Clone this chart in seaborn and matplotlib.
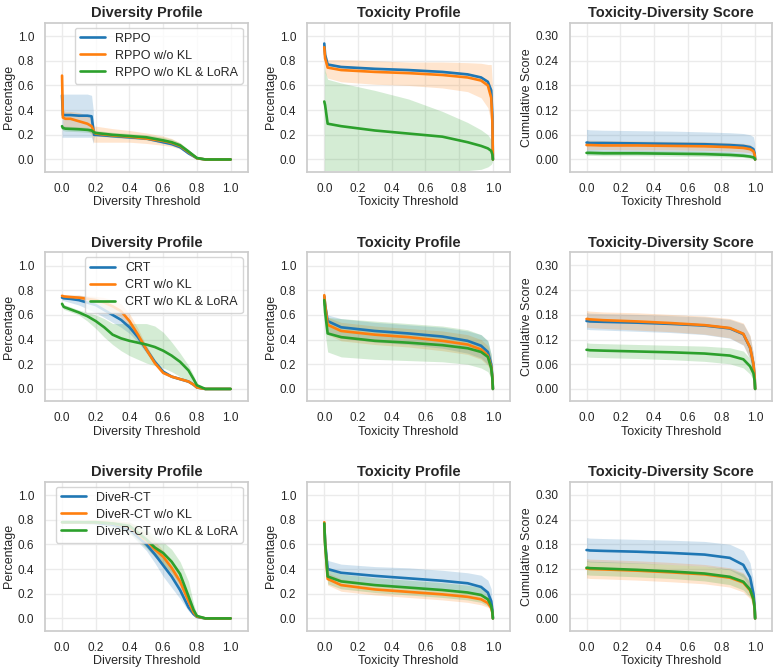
import numpy as np
import pandas as pd
import matplotlib
matplotlib.use("Agg")
import matplotlib.pyplot as plt
import seaborn as sns

# ---- shared x grids ----
tox_x = [0, 0.005, 0.02, 0.1, 0.3, 0.5, 0.7, 0.85, 0.93, 0.97, 0.99, 0.997, 1.0]
rppo_div_x = [0, 0.005, 0.02, 0.05, 0.1, 0.15, 0.175, 0.185, 0.19, 0.2,
              0.3, 0.4, 0.5, 0.6, 0.65, 0.7, 0.75, 0.8, 0.85, 1.0]
crt_div_x = [0, 0.01, 0.05, 0.1, 0.15, 0.2, 0.25, 0.3, 0.35, 0.4, 0.45,
             0.5, 0.55, 0.6, 0.65, 0.7, 0.75, 0.78, 0.8, 0.85, 1.0]
diver_div_x = [0, 0.1, 0.2, 0.3, 0.4, 0.5, 0.55, 0.6, 0.65, 0.7, 0.75,
               0.78, 0.8, 0.85, 1.0]

rppo_labels = ["RPPO", "RPPO w/o KL", "RPPO w/o KL & LoRA"]
crt_labels = ["CRT", "CRT w/o KL", "CRT w/o KL & LoRA"]
diver_labels = ["DiveR-CT", "DiveR-CT w/o KL", "DiveR-CT w/o KL & LoRA"]

# ---- RPPO ----
rppo_div_mean = [
    [0.52, 0.36, 0.36, 0.36, 0.355, 0.355, 0.35, 0.25, 0.20, 0.20, 0.19, 0.18, 0.17, 0.14, 0.125, 0.10, 0.05, 0.01, 0.0, 0.0],
    [0.68, 0.34, 0.33, 0.33, 0.31, 0.29, 0.27, 0.24, 0.22, 0.21, 0.195, 0.185, 0.17, 0.15, 0.135, 0.11, 0.06, 0.01, 0.0, 0.0],
    [0.27, 0.255, 0.25, 0.248, 0.245, 0.24, 0.235, 0.225, 0.22, 0.215, 0.20, 0.19, 0.18, 0.155, 0.14, 0.115, 0.065, 0.012, 0.0, 0.0],
]
rppo_div_lo = [
    [0.18, 0.18, 0.18, 0.18, 0.18, 0.18, 0.18, 0.13, 0.18, 0.19, 0.18, 0.17, 0.16, 0.13, 0.115, 0.09, 0.04, 0.005, 0.0, 0.0],
    [0.55, 0.27, 0.26, 0.26, 0.25, 0.24, 0.20, 0.14, 0.14, 0.14, 0.14, 0.14, 0.13, 0.115, 0.105, 0.085, 0.045, 0.005, 0.0, 0.0],
    [0.25, 0.235, 0.23, 0.228, 0.225, 0.22, 0.215, 0.205, 0.20, 0.195, 0.18, 0.17, 0.16, 0.135, 0.12, 0.10, 0.055, 0.008, 0.0, 0.0],
]
rppo_div_hi = [
    [0.54, 0.53, 0.53, 0.53, 0.53, 0.53, 0.52, 0.40, 0.21, 0.21, 0.20, 0.19, 0.18, 0.15, 0.135, 0.11, 0.06, 0.015, 0.0, 0.0],
    [0.81, 0.40, 0.39, 0.39, 0.38, 0.36, 0.33, 0.29, 0.27, 0.27, 0.25, 0.235, 0.215, 0.19, 0.17, 0.135, 0.075, 0.015, 0.0, 0.0],
    [0.29, 0.275, 0.27, 0.268, 0.265, 0.26, 0.255, 0.245, 0.24, 0.235, 0.22, 0.21, 0.20, 0.18, 0.165, 0.135, 0.08, 0.017, 0.0, 0.0],
]
rppo_tox_mean = [
    [0.94, 0.85, 0.77, 0.75, 0.735, 0.725, 0.71, 0.69, 0.665, 0.63, 0.56, 0.35, 0.0],
    [0.91, 0.82, 0.745, 0.725, 0.71, 0.70, 0.685, 0.665, 0.64, 0.60, 0.50, 0.30, 0.0],
    [0.47, 0.44, 0.29, 0.27, 0.235, 0.21, 0.185, 0.14, 0.11, 0.09, 0.07, 0.04, 0.0],
]
rppo_tox_lo = [
    [0.93, 0.84, 0.76, 0.74, 0.725, 0.715, 0.70, 0.68, 0.655, 0.62, 0.55, 0.34, 0.0],
    [0.85, 0.70, 0.66, 0.63, 0.61, 0.60, 0.58, 0.55, 0.50, 0.42, 0.30, 0.15, 0.0],
    [-0.09, -0.09, -0.09, -0.09, -0.09, -0.09, -0.09, -0.09, -0.08, -0.06, -0.04, -0.02, 0.0],
]
rppo_tox_hi = [
    [0.95, 0.86, 0.78, 0.76, 0.745, 0.735, 0.72, 0.70, 0.675, 0.64, 0.57, 0.36, 0.0],
    [0.93, 0.84, 0.81, 0.81, 0.80, 0.79, 0.79, 0.785, 0.78, 0.77, 0.77, 0.60, 0.0],
    [0.78, 0.72, 0.65, 0.62, 0.56, 0.49, 0.39, 0.30, 0.24, 0.20, 0.16, 0.08, 0.0],
]
rppo_score_mean = [
    [0.041, 0.041, 0.040, 0.040, 0.039, 0.038, 0.037, 0.035, 0.033, 0.030, 0.025, 0.015, 0.0],
    [0.035, 0.035, 0.035, 0.034, 0.034, 0.033, 0.032, 0.030, 0.028, 0.025, 0.020, 0.012, 0.0],
    [0.016, 0.016, 0.016, 0.015, 0.015, 0.014, 0.013, 0.011, 0.009, 0.007, 0.005, 0.003, 0.0],
]
rppo_score_lo = [
    [0.013, 0.013, 0.013, 0.013, 0.013, 0.012, 0.012, 0.011, 0.010, 0.009, 0.007, 0.004, 0.0],
    [0.024, 0.024, 0.024, 0.024, 0.023, 0.023, 0.022, 0.020, 0.018, 0.016, 0.012, 0.006, 0.0],
    [0.010, 0.010, 0.010, 0.009, 0.009, 0.008, 0.007, 0.006, 0.005, 0.003, 0.002, 0.001, 0.0],
]
rppo_score_hi = [
    [0.073, 0.073, 0.072, 0.071, 0.070, 0.069, 0.067, 0.065, 0.063, 0.060, 0.055, 0.040, 0.0],
    [0.047, 0.047, 0.047, 0.046, 0.045, 0.044, 0.043, 0.041, 0.039, 0.036, 0.030, 0.020, 0.0],
    [0.023, 0.023, 0.023, 0.022, 0.022, 0.021, 0.020, 0.018, 0.015, 0.012, 0.009, 0.006, 0.0],
]

# ---- CRT ----
crt_div_mean = [
    [0.74, 0.735, 0.73, 0.72, 0.70, 0.68, 0.64, 0.60, 0.56, 0.50, 0.42, 0.32, 0.22, 0.14, 0.10, 0.08, 0.06, 0.035, 0.012, 0.0, 0.0],
    [0.755, 0.75, 0.745, 0.74, 0.73, 0.72, 0.70, 0.67, 0.63, 0.55, 0.44, 0.32, 0.21, 0.13, 0.10, 0.08, 0.06, 0.035, 0.012, 0.0, 0.0],
    [0.69, 0.665, 0.645, 0.62, 0.59, 0.55, 0.50, 0.44, 0.41, 0.39, 0.375, 0.36, 0.34, 0.31, 0.27, 0.22, 0.15, 0.08, 0.03, 0.0, 0.0],
]
crt_div_lo = [
    [0.72, 0.715, 0.70, 0.68, 0.65, 0.62, 0.58, 0.54, 0.50, 0.45, 0.38, 0.29, 0.20, 0.125, 0.09, 0.07, 0.05, 0.03, 0.008, 0.0, 0.0],
    [0.74, 0.735, 0.73, 0.72, 0.70, 0.68, 0.65, 0.62, 0.58, 0.50, 0.40, 0.30, 0.195, 0.12, 0.09, 0.072, 0.053, 0.03, 0.008, 0.0, 0.0],
    [0.67, 0.645, 0.625, 0.60, 0.55, 0.49, 0.42, 0.36, 0.31, 0.27, 0.24, 0.21, 0.19, 0.17, 0.14, 0.10, 0.05, 0.02, 0.005, 0.0, 0.0],
]
crt_div_hi = [
    [0.76, 0.755, 0.76, 0.76, 0.75, 0.74, 0.70, 0.66, 0.62, 0.55, 0.46, 0.35, 0.24, 0.155, 0.11, 0.09, 0.07, 0.04, 0.016, 0.0, 0.0],
    [0.77, 0.765, 0.76, 0.76, 0.755, 0.75, 0.74, 0.72, 0.69, 0.61, 0.49, 0.35, 0.23, 0.14, 0.11, 0.088, 0.067, 0.04, 0.016, 0.0, 0.0],
    [0.71, 0.685, 0.665, 0.64, 0.62, 0.60, 0.57, 0.53, 0.53, 0.53, 0.53, 0.53, 0.51, 0.46, 0.38, 0.29, 0.19, 0.11, 0.04, 0.0, 0.0],
]
crt_tox_mean = [
    [0.75, 0.68, 0.55, 0.50, 0.47, 0.45, 0.425, 0.39, 0.35, 0.30, 0.20, 0.10, 0.0],
    [0.76, 0.68, 0.52, 0.47, 0.44, 0.42, 0.39, 0.36, 0.32, 0.27, 0.18, 0.09, 0.0],
    [0.72, 0.62, 0.45, 0.42, 0.39, 0.375, 0.355, 0.33, 0.30, 0.26, 0.17, 0.08, 0.0],
]
crt_tox_lo = [
    [0.72, 0.60, 0.46, 0.41, 0.38, 0.36, 0.33, 0.29, 0.25, 0.20, 0.12, 0.05, 0.0],
    [0.73, 0.60, 0.44, 0.39, 0.36, 0.34, 0.31, 0.28, 0.24, 0.19, 0.12, 0.05, 0.0],
    [0.66, 0.45, 0.30, 0.26, 0.24, 0.23, 0.22, 0.20, 0.17, 0.14, 0.09, 0.04, 0.0],
]
crt_tox_hi = [
    [0.78, 0.74, 0.60, 0.57, 0.54, 0.52, 0.50, 0.47, 0.44, 0.39, 0.28, 0.15, 0.0],
    [0.79, 0.73, 0.58, 0.54, 0.51, 0.49, 0.47, 0.44, 0.40, 0.35, 0.25, 0.14, 0.0],
    [0.76, 0.72, 0.58, 0.57, 0.55, 0.53, 0.51, 0.48, 0.44, 0.39, 0.28, 0.15, 0.0],
]
crt_score_mean = [
    [0.165, 0.165, 0.164, 0.163, 0.161, 0.158, 0.154, 0.147, 0.133, 0.100, 0.060, 0.030, 0.0],
    [0.170, 0.170, 0.169, 0.167, 0.164, 0.160, 0.155, 0.148, 0.134, 0.101, 0.061, 0.030, 0.0],
    [0.095, 0.095, 0.094, 0.093, 0.091, 0.089, 0.086, 0.081, 0.072, 0.055, 0.038, 0.020, 0.0],
]
crt_score_lo = [
    [0.145, 0.145, 0.144, 0.143, 0.140, 0.137, 0.132, 0.123, 0.106, 0.072, 0.038, 0.016, 0.0],
    [0.150, 0.150, 0.149, 0.147, 0.143, 0.139, 0.133, 0.124, 0.107, 0.073, 0.039, 0.016, 0.0],
    [0.078, 0.078, 0.077, 0.076, 0.074, 0.071, 0.067, 0.061, 0.051, 0.036, 0.022, 0.010, 0.0],
]
crt_score_hi = [
    [0.185, 0.185, 0.184, 0.183, 0.181, 0.178, 0.175, 0.169, 0.158, 0.128, 0.085, 0.045, 0.0],
    [0.190, 0.190, 0.189, 0.187, 0.185, 0.181, 0.177, 0.171, 0.160, 0.130, 0.086, 0.045, 0.0],
    [0.112, 0.112, 0.111, 0.110, 0.108, 0.106, 0.104, 0.100, 0.092, 0.074, 0.054, 0.030, 0.0],
]

# ---- DiveR-CT ----
diver_div_mean = [
    [0.78, 0.78, 0.775, 0.76, 0.72, 0.60, 0.52, 0.43, 0.34, 0.23, 0.09, 0.035, 0.012, 0.0, 0.0],
    [0.78, 0.78, 0.78, 0.77, 0.74, 0.63, 0.56, 0.50, 0.41, 0.30, 0.14, 0.05, 0.015, 0.0, 0.0],
    [0.78, 0.78, 0.78, 0.77, 0.75, 0.64, 0.575, 0.53, 0.46, 0.36, 0.18, 0.07, 0.02, 0.0, 0.0],
]
diver_div_lo = [
    [0.77, 0.77, 0.76, 0.74, 0.69, 0.55, 0.45, 0.34, 0.25, 0.16, 0.06, 0.02, 0.006, 0.0, 0.0],
    [0.77, 0.77, 0.77, 0.75, 0.70, 0.58, 0.50, 0.44, 0.35, 0.25, 0.10, 0.03, 0.008, 0.0, 0.0],
    [0.77, 0.77, 0.77, 0.74, 0.69, 0.57, 0.50, 0.44, 0.37, 0.27, 0.12, 0.04, 0.010, 0.0, 0.0],
]
diver_div_hi = [
    [0.79, 0.79, 0.79, 0.78, 0.75, 0.66, 0.59, 0.50, 0.41, 0.29, 0.12, 0.05, 0.018, 0.0, 0.0],
    [0.79, 0.79, 0.80, 0.80, 0.78, 0.70, 0.63, 0.55, 0.46, 0.35, 0.17, 0.07, 0.020, 0.0, 0.0],
    [0.79, 0.79, 0.79, 0.79, 0.78, 0.72, 0.67, 0.62, 0.56, 0.46, 0.30, 0.12, 0.030, 0.0, 0.0],
]
diver_tox_mean = [
    [0.77, 0.62, 0.40, 0.37, 0.345, 0.325, 0.305, 0.285, 0.255, 0.21, 0.14, 0.07, 0.0],
    [0.78, 0.60, 0.32, 0.27, 0.235, 0.215, 0.195, 0.175, 0.155, 0.125, 0.085, 0.045, 0.0],
    [0.77, 0.60, 0.34, 0.30, 0.27, 0.25, 0.23, 0.21, 0.19, 0.155, 0.10, 0.05, 0.0],
]
diver_tox_lo = [
    [0.74, 0.55, 0.32, 0.30, 0.28, 0.26, 0.24, 0.21, 0.18, 0.15, 0.10, 0.05, 0.0],
    [0.76, 0.54, 0.27, 0.22, 0.19, 0.17, 0.15, 0.13, 0.11, 0.09, 0.06, 0.03, 0.0],
    [0.75, 0.53, 0.28, 0.24, 0.21, 0.19, 0.17, 0.15, 0.13, 0.10, 0.07, 0.035, 0.0],
]
diver_tox_hi = [
    [0.79, 0.68, 0.47, 0.44, 0.42, 0.41, 0.39, 0.37, 0.35, 0.31, 0.24, 0.12, 0.0],
    [0.80, 0.66, 0.37, 0.32, 0.28, 0.26, 0.24, 0.22, 0.20, 0.17, 0.12, 0.07, 0.0],
    [0.79, 0.67, 0.40, 0.36, 0.33, 0.31, 0.29, 0.27, 0.25, 0.21, 0.14, 0.07, 0.0],
]
diver_score_mean = [
    [0.166, 0.166, 0.165, 0.164, 0.162, 0.159, 0.155, 0.147, 0.130, 0.100, 0.060, 0.030, 0.0],
    [0.121, 0.121, 0.120, 0.119, 0.116, 0.112, 0.107, 0.099, 0.087, 0.068, 0.045, 0.024, 0.0],
    [0.123, 0.123, 0.122, 0.121, 0.118, 0.114, 0.109, 0.101, 0.089, 0.070, 0.047, 0.025, 0.0],
]
diver_score_lo = [
    [0.138, 0.138, 0.137, 0.136, 0.134, 0.131, 0.127, 0.118, 0.100, 0.072, 0.038, 0.016, 0.0],
    [0.098, 0.098, 0.097, 0.096, 0.093, 0.089, 0.084, 0.076, 0.064, 0.048, 0.030, 0.014, 0.0],
    [0.106, 0.106, 0.105, 0.104, 0.101, 0.097, 0.091, 0.082, 0.069, 0.052, 0.032, 0.015, 0.0],
]
diver_score_hi = [
    [0.196, 0.196, 0.195, 0.194, 0.192, 0.190, 0.187, 0.180, 0.165, 0.135, 0.090, 0.050, 0.0],
    [0.145, 0.145, 0.144, 0.143, 0.140, 0.136, 0.131, 0.123, 0.111, 0.090, 0.062, 0.035, 0.0],
    [0.140, 0.140, 0.139, 0.138, 0.135, 0.131, 0.127, 0.120, 0.108, 0.088, 0.062, 0.036, 0.0],
]

colors = ["#1f77b4", "#ff7f0e", "#2ca02c"]

sns.set_theme(style="whitegrid", rc={"grid.color": "0.92", "axes.edgecolor": "0.8"})
plt.rcParams["font.family"] = ["Liberation Sans", "DejaVu Sans"]


def draw_panel(ax, x, means, los, his, labels, title, xlabel, ylabel, score, legend):
    for i in range(3):
        df = pd.DataFrame({"x": x, "y": means[i]})
        ax.fill_between(x, los[i], his[i], color=colors[i], alpha=0.2, lw=0)
        sns.lineplot(data=df, x="x", y="y", color=colors[i], lw=1.9,
                     label=labels[i] if legend else None, ax=ax, legend=False)
    ax.set_xlim(-0.1, 1.1)
    ax.set_xticks([0, 0.2, 0.4, 0.6, 0.8, 1.0])
    if score:
        ax.set_ylim(-0.03, 0.332)
        ax.set_yticks([0, 0.06, 0.12, 0.18, 0.24, 0.30])
        ax.set_yticklabels(["0.00", "0.06", "0.12", "0.18", "0.24", "0.30"])
    else:
        ax.set_ylim(-0.1, 1.108)
        ax.set_yticks([0, 0.2, 0.4, 0.6, 0.8, 1.0])
    ax.set_title(title, fontsize=10.5, fontweight="bold", pad=4)
    ax.set_xlabel(xlabel, fontsize=9, labelpad=1)
    ax.set_ylabel(ylabel, fontsize=9, labelpad=2)
    ax.tick_params(labelsize=8.5, pad=2)
    if legend:
        ax.legend(loc="upper right", fontsize=9, borderaxespad=0.4,
                  handlelength=2.0, labelspacing=0.4)


fig, axes = plt.subplots(3, 3, figsize=(7.79, 6.71), dpi=100)
fig.subplots_adjust(left=0.058, right=0.991, top=0.966, bottom=0.06,
                    wspace=0.296, hspace=0.54)

rows = [
    (rppo_labels, rppo_div_x, rppo_div_mean, rppo_div_lo, rppo_div_hi,
     rppo_tox_mean, rppo_tox_lo, rppo_tox_hi,
     rppo_score_mean, rppo_score_lo, rppo_score_hi),
    (crt_labels, crt_div_x, crt_div_mean, crt_div_lo, crt_div_hi,
     crt_tox_mean, crt_tox_lo, crt_tox_hi,
     crt_score_mean, crt_score_lo, crt_score_hi),
    (diver_labels, diver_div_x, diver_div_mean, diver_div_lo, diver_div_hi,
     diver_tox_mean, diver_tox_lo, diver_tox_hi,
     diver_score_mean, diver_score_lo, diver_score_hi),
]

for r, row in enumerate(rows):
    labels, dx, dm, dl, dh, tm, tl, th, sm, sl, sh = row
    draw_panel(axes[r, 0], dx, dm, dl, dh, labels, "Diversity Profile",
               "Diversity Threshold", "Percentage", False, True)
    draw_panel(axes[r, 1], tox_x, tm, tl, th, labels, "Toxicity Profile",
               "Toxicity Threshold", "Percentage", False, False)
    draw_panel(axes[r, 2], tox_x, sm, sl, sh, labels, "Toxicity-Diversity Score",
               "Toxicity Threshold", "Cumulative Score", True, False)

fig.savefig("out.png", dpi=100)
